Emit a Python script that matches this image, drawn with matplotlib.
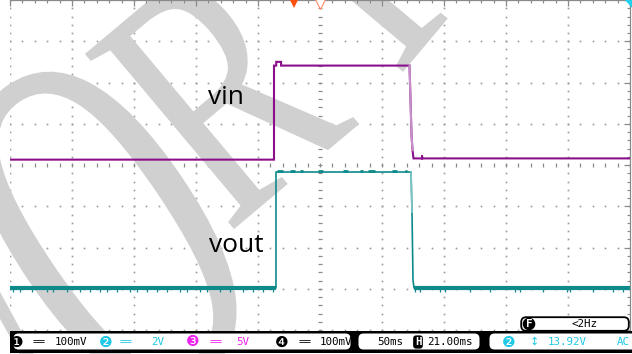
import matplotlib
matplotlib.use("Agg")
import matplotlib.pyplot as plt
import matplotlib.transforms as mtransforms
from matplotlib.patches import FancyBboxPatch, PathPatch, Polygon, Rectangle
from matplotlib.textpath import TextPath
from matplotlib.font_manager import FontProperties
import numpy as np

W, H = 632, 354

# scope settings
t_per_div = 50.0      # ms/div
n_hdiv, n_vdiv = 10, 8
vin_vdiv = 5.0        # CH3 V/div
vout_vdiv = 2.0       # CH2 V/div
vin_pos = 0.13        # trace ground position, div
vout_pos = -2.98
trig_t = -21.0        # ms, horizontal position

# captured waveforms (ms, V)
vin_t = [-250.0, -37.1, -37.1, -35.3, -35.3, -31.4, -31.4, 72.2, 73.0, 73.8,
         74.6, 75.4, 82.3, 82.3, 82.3, 250.0]
vin_v = [0.0, 0.0, 11.4, 11.4, 11.85, 11.85, 11.4, 11.4, 7.25, 3.0,
         1.15, 0.15, 0.15, 0.5, 0.15, 0.15]
vin_fall = (72.2, 74.6)

vout_t = [-250.0, -35.5, -35.5, 73.4, 74.2, 75.0, 75.8, 250.0]
vout_v = [0.0, 0.0, 5.62, 5.62, 3.68, 0.38, 0.0, 0.0]
vout_fall = (73.4, 74.2)
vout_low = [(-250.0, -35.5), (75.8, 250.0)]
# short drop-outs on the low level
vout_glitch = [-247.6, -241.9, -232.3, -220.2, -215.3, -204.0, -193.5, -185.5,
               -177.4, -171.8, -163.7, -153.2, -147.6, -139.5, -131.5, -123.4,
               -112.9, -107.3, -96.8, -91.1, -80.6, -72.6, -62.1, -54.0, -46.0,
               -37.9, 76.6, 80.6, 96.8, 100.8, 121.0, 137.1, 157.3, 161.3,
               179.8, 199.2, 201.6, 220.2, 236.3, 244.4]
# noisy spots on the high level
vout_bumps = [(-34.7, -29.8), (-24.2, -20.2), (-16.1, -13.7), (-1.6, 2.4),
              (18.5, 22.6), (32.3, 34.7), (38.7, 44.4), (58.1, 62.1), (68.5, 70.2)]

status_ch = [("\u2776", "100mV", "black"), ("\u2777", "2V", "#1ec8e6"),
             ("\u2778", "5V", "#ee22ee"), ("\u2779", "100mV", "black")]
timebase = "50ms"
hpos = "21.00ms"
meas = "13.92V"
freq = "<2Hz"

c_vin = "#8b0f8b"
c_vin_lt = "#c890c8"
c_vout = "#0e8a8a"
c_vout_lt = "#80c6c6"
c_grid = "#9a9a9a"
c_stamp = "#d0d0d0"


def to_div(v, scale, pos):
    return np.asarray(v) / scale + pos


fig = plt.figure(figsize=(W / 100, H / 100), dpi=100)
ax = fig.add_axes([10 / W, (H - 330) / H, 620 / W, 330 / H])
ax.set_facecolor("none")
half_t = t_per_div * n_hdiv / 2
ax.set_xlim(-half_t, half_t)
ax.set_ylim(-n_vdiv / 2, n_vdiv / 2)

# frame: only top and right edges drawn
for s in ("left", "bottom"):
    ax.spines[s].set_visible(False)
for s in ("top", "right"):
    ax.spines[s].set_color("#8a8a8a")
    ax.spines[s].set_linewidth(0.9)
ax.xaxis.set_ticks_position("top")
ax.yaxis.set_ticks_position("right")
ax.set_xticks(np.arange(-half_t, half_t + 1, t_per_div))
ax.set_xticks(np.arange(-half_t, half_t + 1, t_per_div / 5), minor=True)
ax.set_yticks(np.arange(-4, 5, 1))
ax.set_yticks(np.arange(-4, 4.01, 0.2), minor=True)
ax.tick_params(which="both", direction="in", color="#8a8a8a", labelsize=0,
               labeltop=False, labelright=False, labelleft=False, labelbottom=False)
ax.tick_params(which="major", length=4, width=0.9)
ax.tick_params(which="minor", length=2, width=0.8)

# dotted graticule
ydots = np.arange(-4, 4.01, 0.2)
xdots = np.arange(-half_t, half_t + 1, t_per_div / 5)
for xv in np.arange(-half_t, half_t + 1, t_per_div):
    if xv == 0:
        continue
    ax.plot(np.full(ydots.size, xv), ydots, ls="none", marker="s", ms=1.2,
            mew=0, color=c_grid, zorder=1)
for yv in range(-4, 5):
    if yv == 0:
        continue
    ax.plot(xdots, np.full(xdots.size, yv), ls="none", marker="s", ms=1.2,
            mew=0, color=c_grid, zorder=1)
# centre cross ticks
ax.plot(np.zeros(ydots.size), ydots, ls="none", marker="_", ms=3.2, mew=0.9,
        color="#8a8a8a", zorder=1)
ax.plot(xdots, np.zeros(xdots.size), ls="none", marker="|", ms=3.2, mew=0.9,
        color="#8a8a8a", zorder=1)

# big slanted watermark, one glyph at a time (pixel units)
wm_font = FontProperties(family="Liberation Serif")


def stamp_letter(ch, cx, cy, height, width, angle):
    tp = TextPath((0, 0), ch, size=100, prop=wm_font)
    ext = tp.get_extents()
    tr = (mtransforms.Affine2D()
          .translate(-(ext.x0 + ext.x1) / 2, -(ext.y0 + ext.y1) / 2)
          .scale(width / ext.width, height / ext.height)
          .rotate_deg(angle)
          .translate(cx, H - cy))
    patch = PathPatch(tr.transform_path(tp), facecolor=c_stamp,
                      edgecolor="none", transform=mtransforms.IdentityTransform(),
                      clip_on=False, zorder=1.5)
    ax.add_artist(patch)


stamp_letter("W", -35, 385, 300, 230, 39)
stamp_letter("O", 106, 230, 350, 185, 34)
stamp_letter("R", 222, 89, 230, 165, 40)
stamp_letter("K", 370, -70, 233, 175, 50)

# traces
vin_y = to_div(vin_v, vin_vdiv, vin_pos)
ax.plot(vin_t, vin_y, color=c_vin, lw=1.5, zorder=3, solid_joinstyle="miter")
i0, i1 = vin_t.index(vin_fall[0]), vin_t.index(vin_fall[1])
ax.plot(vin_t[i0:i1 + 1], vin_y[i0:i1 + 1], color=c_vin_lt, lw=1.5, zorder=3.1)

vout_y = to_div(vout_v, vout_vdiv, vout_pos)
ax.plot(vout_t, vout_y, color=c_vout, lw=1.2, zorder=3)
j0, j1 = vout_t.index(vout_fall[0]), vout_t.index(vout_fall[1])
ax.plot(vout_t[j0:j1 + 1], vout_y[j0:j1 + 1], color=c_vout_lt, lw=1.2, zorder=3.1)
lo = to_div(0.0, vout_vdiv, vout_pos)
hi = to_div(max(vout_v), vout_vdiv, vout_pos)
for a, b in vout_low:
    ax.plot([a, b], [lo, lo], color=c_vout, lw=3.0, solid_capstyle="butt", zorder=3)
ax.vlines(vout_glitch, lo - 0.09, lo, color=c_vout, lw=0.9, zorder=3)
for a, b in vout_bumps:
    ax.plot([a, b], [hi + 0.03, hi + 0.03], color=c_vout, lw=2.0,
            solid_capstyle="butt", zorder=3)

# trigger markers on the top edge
ax.plot([trig_t], [3.93], marker="v", ms=7, color="#ff5010", mew=0,
        clip_on=False, zorder=4)
ax.plot([0], [3.91], marker="v", ms=7, mfc="white", mec="#ff8a6a", mew=0.8,
        clip_on=False, zorder=4)

ax.text(-90.3, 1.48, "vin", fontsize=19, family="Open Sans", color="black",
        va="baseline", ha="left", zorder=5)
ax.text(-89.5, -2.11, "vout", fontsize=19, family="Open Sans", color="black",
        va="baseline", ha="left", zorder=5)

# status bar, drawn in pixel units
sb = fig.add_axes([0, 0, 1, 1], zorder=5)
sb.set_xlim(0, W)
sb.set_ylim(H, 0)
sb.axis("off")
sb.set_facecolor("none")

sb.add_patch(Polygon([(625, 0), (632, 0), (632, 8)], closed=True,
                     color="#22d0ee", lw=0))

sb.add_patch(Rectangle((10, 331), 630, 22, color="black", lw=0))
for x0, x1 in [(13, 351), (358, 480), (489, 640)]:
    sb.add_patch(FancyBboxPatch((x0 + 2, 335), x1 - x0 - 4, 13,
                                boxstyle="round,pad=1.5,rounding_size=5",
                                fc="white", ec="none"))
sb.add_patch(FancyBboxPatch((522, 318), 106, 12,
                            boxstyle="round,pad=0.8,rounding_size=5",
                            fc="white", ec="black", lw=1.3))

mono = dict(family="DejaVu Sans Mono", fontsize=7.8, va="center")
circ = dict(family="DejaVu Sans", fontsize=11, va="center", ha="center")
ty = 342
xs = [(17, 39, 55), (106, 126, 151), (193, 216, 236), (282, 305, 320)]
for (sym, val, col), (xc, xe, xv) in zip(status_ch, xs):
    sb.text(xc, ty, sym, color=col, **circ)
    sb.text(xe, ty, "==", color=col, ha="center", **mono)
    sb.text(xv, ty, val, color=col, ha="left", **mono)

sb.text(390, ty, timebase, color="black", ha="center", **mono)
sb.text(418, ty, "H", color="white", ha="center", fontweight="bold",
        bbox=dict(boxstyle="round,pad=0.15,rounding_size=0.3", fc="black", ec="none"),
        **mono)
sb.text(427, ty, hpos, color="black", ha="left", **mono)
sb.text(509, ty, status_ch[1][0], color=status_ch[1][2], **circ)
sb.text(534, ty, "\u2195", color=status_ch[1][2], family="DejaVu Sans",
        fontsize=8, ha="center", va="center")
sb.text(548, ty, meas, color=status_ch[1][2], ha="left", **mono)
sb.text(630, ty, "AC", color=status_ch[1][2], ha="right", **mono)

sb.text(529, 324, "F", color="white", ha="center", fontweight="bold",
        bbox=dict(boxstyle="circle,pad=0.12", fc="black", ec="none"), **mono)
sb.text(585, 324, freq, color="black", ha="center", **mono)

fig.savefig("out.png", dpi=100)
